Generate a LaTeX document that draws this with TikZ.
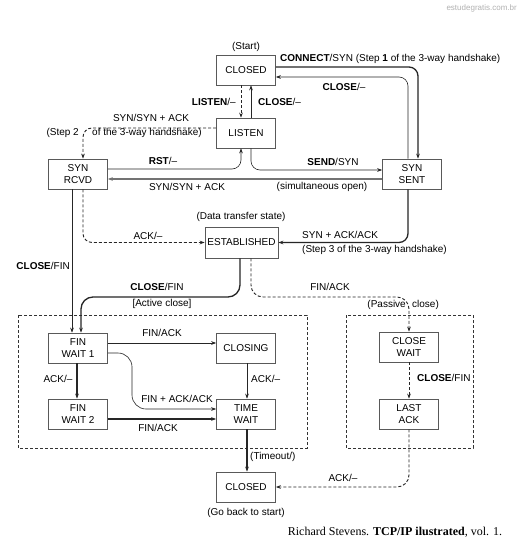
\documentclass[tikz,border=0pt]{standalone}
\usepackage{fontspec}
\setmainfont{Liberation Sans}
\newfontfamily\capfont{Liberation Serif}
\usetikzlibrary{arrows.meta}
\begin{document}
\begin{tikzpicture}[x=1pt,y=-1pt,
  every node/.style={font=\fontsize{10}{11.5}\selectfont, inner sep=0pt},
  state/.style={draw=black!65, line width=0.7pt, minimum width=59pt, minimum height=30pt, align=center, fill=white},
  lbl/.style={align=center},
  tip/.style={-{Stealth[length=5pt,width=3.6pt]}},
  thn/.style={tip, line width=0.6pt, black!85},
  thk/.style={tip, line width=1.3pt, black!85},
  gry/.style={tip, line width=1.8pt, black!55},
  dsh/.style={tip, line width=0.9pt, dash pattern=on 3pt off 2pt, black!85},
  grp/.style={draw=black!80, line width=0.8pt, dash pattern=on 3pt off 2pt},
  rc/.style={rounded corners=9pt}]
\useasboundingbox[fill=white] (0,0) rectangle (520,557);

% group boxes
\draw[grp] (18,315) rectangle (307,448);
\draw[grp] (346,315) rectangle (473,448);

% states
\node[state] (closed) at (246,70) {CLOSED};
\node[state] (listen) at (246,133) {LISTEN};
\node[state] (synrcvd) at (78,174) {SYN\\RCVD};
\node[state] (synsent) at (412,174) {SYN\\SENT};
\node[state, minimum width=73pt, minimum height=31pt] (est) at (241.5,242.5) {ESTABLISHED};
\node[state] (fw1) at (78,348) {FIN\\WAIT 1};
\node[state] (closing) at (246,348) {CLOSING};
\node[state] (fw2) at (78,414) {FIN\\WAIT 2};
\node[state] (tw) at (246,414) {TIME\\WAIT};
\node[state] (cw) at (409,347) {CLOSE\\WAIT};
\node[state] (la) at (409,414) {LAST\\ACK};
\node[state] (closed2) at (246,487) {CLOSED};

% state annotations
\node[lbl] (tstart) at (246,47) {(Start)};
\node[lbl] (tdata) at (241,217) {(Data transfer state)};
\node[lbl] (tback) at (246,513) {(Go back to start)};
\node[lbl] (tactive) at (162,304) {[Active close]};
\node[lbl, anchor=east] (tpassive1) at (406,305) {(Passive};
\node[lbl, anchor=west] (tpassive2) at (412,305) {close)};

% coordinates
\coordinate (c1) at (160,297);
\coordinate (c2) at (330,297);
\coordinate (c3) at (132,380);

% connectors
\draw[thk, rc] ([yshift=3pt]closed.east) -| ([xshift=6pt]synsent.north);
\draw[thn, rc] ([xshift=-4pt]synsent.north) |- ([yshift=-7pt]closed.east);
\draw[dsh] ([xshift=-5pt]closed.south) -- ([xshift=-5pt]listen.north);
\draw[thn] ([xshift=5pt]listen.north) -- ([xshift=5pt]closed.south);
\draw[dsh, rc] ([yshift=5pt]listen.west) -| ([xshift=5pt]synrcvd.north);
\draw[thn, rc] ([yshift=5pt]synrcvd.east) -| ([xshift=-5pt]listen.south);
\draw[thn, rc] ([xshift=5pt]listen.south) |- ([yshift=4pt]synsent.west);
\draw[gry] ([yshift=-5pt]synsent.west) -- ([yshift=-5pt]synrcvd.east);
\draw[dsh, rc] ([xshift=5pt]synrcvd.south) |- (est.west);
\draw[thk, rc] ([xshift=-4pt]synsent.south) |- (est.east);
\draw[thn] ([xshift=-6pt]synrcvd.south) -- ([xshift=-6pt]fw1.north);
\draw[thk, rounded corners=12pt] ([xshift=-1.5pt]est.south) |- (c1) -| ([xshift=3pt]fw1.north);
\draw[dsh, rounded corners=12pt] ([xshift=9.5pt]est.south) |- (c2) -| (cw.north);
\draw[thn] ([yshift=5pt]fw1.east) -- ([yshift=5pt]closing.west);
\draw[thn, rounded corners=14pt] ([yshift=-5pt]fw1.east) -| (c3) |- ([yshift=5pt]tw.west);
\draw[thk] ([xshift=-1pt]fw1.south) -- ([xshift=-1pt]fw2.north);
\draw[thn] ([xshift=1pt]closing.south) -- ([xshift=1pt]tw.north);
\draw[thk] ([yshift=-5pt]fw2.east) -- ([yshift=-5pt]tw.west);
\draw[thk] ([xshift=1pt]tw.south) -- ([xshift=1pt]closed2.north);
\draw[dsh] (cw.south) -- (la.north);
\draw[dsh, rounded corners=12pt] (la.south) |- (closed2.east);

% connector labels
\node[lbl, anchor=west] (l1) at (280,59) {\textbf{CONNECT}/SYN (Step \textbf{1} of the 3-way handshake)};
\node[lbl] (l2) at (344,87) {\textbf{CLOSE}/–};
\node[lbl, anchor=east] (l3) at (236,102) {\textbf{LISTEN}/–};
\node[lbl, anchor=west] (l4) at (258,102) {\textbf{CLOSE}/–};
\node[lbl] (l5) at (151,118) {SYN/SYN + ACK};
\node[lbl, anchor=east] (l6a) at (79,133) {(Step 2};
\node[lbl, anchor=west] (l6b) at (92,133) {of the 3-way handshake)};
\node[lbl] (l7) at (163,161) {\textbf{RST}/–};
\node[lbl] (l8) at (333,162) {\textbf{SEND}/SYN};
\node[lbl] (l9) at (187,187) {SYN/SYN + ACK};
\node[lbl] (l10) at (322,187) {(simultaneous open)};
\node[lbl] (l11) at (148,236) {ACK/–};
\node[lbl, anchor=west] (l12a) at (302,235) {SYN + ACK/ACK};
\node[lbl, anchor=west] (l12b) at (302,250) {(Step 3 of the 3-way handshake)};
\node[lbl, anchor=east] (l13) at (70,266) {\textbf{CLOSE}/FIN};
\node[lbl] (l14) at (157,287) {\textbf{CLOSE}/FIN};
\node[lbl] (l15) at (330,287) {FIN/ACK};
\node[lbl] (l16) at (162,333) {FIN/ACK};
\node[lbl] (l17) at (177,399) {FIN + ACK/ACK};
\node[lbl] (l18) at (58,379) {ACK/–};
\node[lbl, anchor=west] (l19) at (251,379) {ACK/–};
\node[lbl] (l20) at (158,428) {FIN/ACK};
\node[lbl, anchor=west] (l21) at (250,457) {(Timeout/)};
\node[lbl, anchor=west] (l22) at (417,378) {\textbf{CLOSE}/FIN};
\node[lbl] (l23) at (343,478) {ACK/–};

% caption and watermark
\node[font=\capfont\fontsize{12}{14}\selectfont] (cap) at (395,532) {Richard Stevens. \textbf{TCP/IP ilustrated}, vol. 1.};
\node[font=\fontsize{8}{9}\selectfont, text=black!30, anchor=east] (wm) at (517,8) {estudegratis.com.br};
\end{tikzpicture}
\end{document}
